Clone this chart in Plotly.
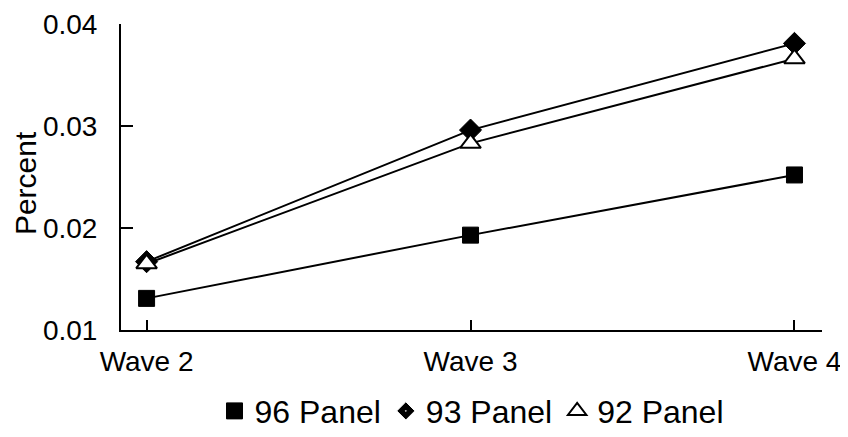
import plotly.graph_objects as go

waves = ["Wave 2", "Wave 3", "Wave 4"]
panel96 = [0.0131, 0.0193, 0.0252]
panel93 = [0.0167, 0.0296, 0.0381]
panel92 = [0.0165, 0.0283, 0.0366]
y_ticks = [0.01, 0.02, 0.03, 0.04]
y_ticktext = ["0.01", "0.02", "0.03", "0.04"]
y_title = "Percent"

series = [
    ("96 Panel", panel96, dict(symbol="square", size=16, color="black", line=dict(color="black", width=1))),
    ("93 Panel", panel93, dict(symbol="diamond", size=17, color="black", line=dict(color="black", width=1))),
    ("92 Panel", panel92, dict(symbol="triangle-up", size=18, color="white", line=dict(color="black", width=2))),
]

fig = go.Figure()
for name, vals, mk in series:
    fig.add_trace(go.Scatter(
        x=waves, y=vals, name=name, mode="lines+markers", showlegend=False,
        line=dict(color="black", width=2), marker=mk,
    ))
# legend entries showing marker only
for name, vals, mk in series:
    lm = dict(mk)
    if name == "93 Panel":
        lm = dict(symbol="diamond-dot", size=14, color="black", line=dict(color="white", width=1))
    fig.add_trace(go.Scatter(
        x=[None], y=[None], name=name, mode="markers", showlegend=True, marker=lm,
    ))

fig.add_annotation(
    text=y_title, textangle=-90, xref="paper", yref="paper",
    x=-0.137, y=0.48, xanchor="center", yanchor="middle", showarrow=False,
    font=dict(size=30, color="black"),
)

fig.update_layout(
    width=840, height=429,
    template="none",
    margin=dict(l=113, r=26, t=16, b=107, autoexpand=False),
    paper_bgcolor="white", plot_bgcolor="white",
    font=dict(family="Liberation Sans, Arial, sans-serif", size=28, color="black"),
    showlegend=True,
    legend=dict(orientation="h", x=0.50, xanchor="center", y=-0.265, yanchor="middle",
                font=dict(size=32), itemwidth=30, tracegroupgap=0, traceorder="normal",
                bgcolor="rgba(0,0,0,0)"),
    xaxis=dict(
        type="category", range=[-0.079, 2.085], showline=True, linecolor="black", linewidth=2,
        ticks="inside", ticklen=10, tickwidth=1.5, tickcolor="black", showgrid=False,
        zeroline=False, tickfont=dict(size=28), ticklabelstandoff=5, automargin=False,
    ),
    yaxis=dict(
        range=[0.01, 0.04], showline=True, linecolor="black", linewidth=2,
        tickvals=y_ticks, ticktext=y_ticktext,
        ticks="inside", ticklen=12, tickwidth=1.5, tickcolor="black", showgrid=False,
        zeroline=False, tickfont=dict(size=28), ticklabelstandoff=16, automargin=False,
    ),
)

fig.write_html("out.html")
